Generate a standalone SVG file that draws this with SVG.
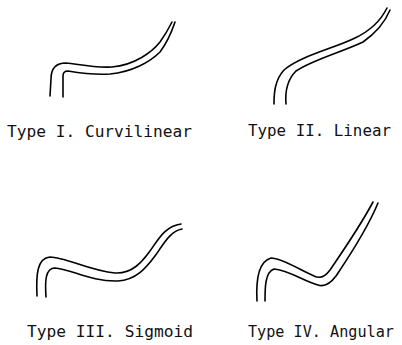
<svg xmlns="http://www.w3.org/2000/svg" width="402" height="345" viewBox="0 0 402 345">
  <style>
    .wire { fill: none; stroke: #000; stroke-width: 1.6; stroke-linecap: round; stroke-linejoin: round; }
    .cap { font-family: "DejaVu Sans Mono", "Liberation Mono", monospace; font-size: 15px; fill: #111; }
  </style>
  <rect width="402" height="345" fill="#fff"/>

  <!-- Type I: curvilinear -->
  <g id="type-1">
    <path class="wire" d="M50,96 L51,79 C51,68 56,63 66,63 C78,64 92,68 112,67 C135,65 152,52 160,42 C165,35 169,28 172,22"/>
    <path class="wire" d="M63,97 L63,76 C63,72 65,71 68,71 C80,73 95,75 110,74 C132,72 150,62 160,52 C166,44 171,34 175,22"/>
    <text class="cap" x="7" y="137" textLength="185" lengthAdjust="spacingAndGlyphs">Type I. Curvilinear</text>
  </g>

  <!-- Type II: linear -->
  <g id="type-2">
    <path class="wire" d="M274,104 C274,92 275,80 284,70 C300,56 335,48 355,38 C372,30 381,20 387,8"/>
    <path class="wire" d="M286,104 C285,92 287,80 296,71 C312,60 342,52 363,42 C376,33 385,22 390,10"/>
    <text class="cap" x="248" y="136" textLength="143" lengthAdjust="spacingAndGlyphs">Type II. Linear</text>
  </g>

  <!-- Type III: sigmoid -->
  <g id="type-3">
    <path class="wire" d="M37,296 C36,275 37,258 50,257 C65,257 90,271 115,273 C132,274 142,262 150,251 C158,240 165,226 181,224"/>
    <path class="wire" d="M46,297 C45,282 45,268 55,268 C70,269 92,282 118,281 C136,280 146,268 155,256 C163,245 170,231 182,229"/>
    <text class="cap" x="27" y="337" textLength="166" lengthAdjust="spacingAndGlyphs">Type III. Sigmoid</text>
  </g>

  <!-- Type IV: angular -->
  <g id="type-4">
    <path class="wire" d="M257,301 C256,283 257,262 271,258 C282,258 300,270 314,276 C320,279 325,277 330,270 C338,258 358,230 373,202"/>
    <path class="wire" d="M265,301 C265,288 265,272 274,269 C288,270 304,281 318,285 C324,287 330,284 336,276 C344,264 366,232 378,203"/>
    <text class="cap" x="248" y="337" textLength="146" lengthAdjust="spacingAndGlyphs">Type IV. Angular</text>
  </g>
</svg>
